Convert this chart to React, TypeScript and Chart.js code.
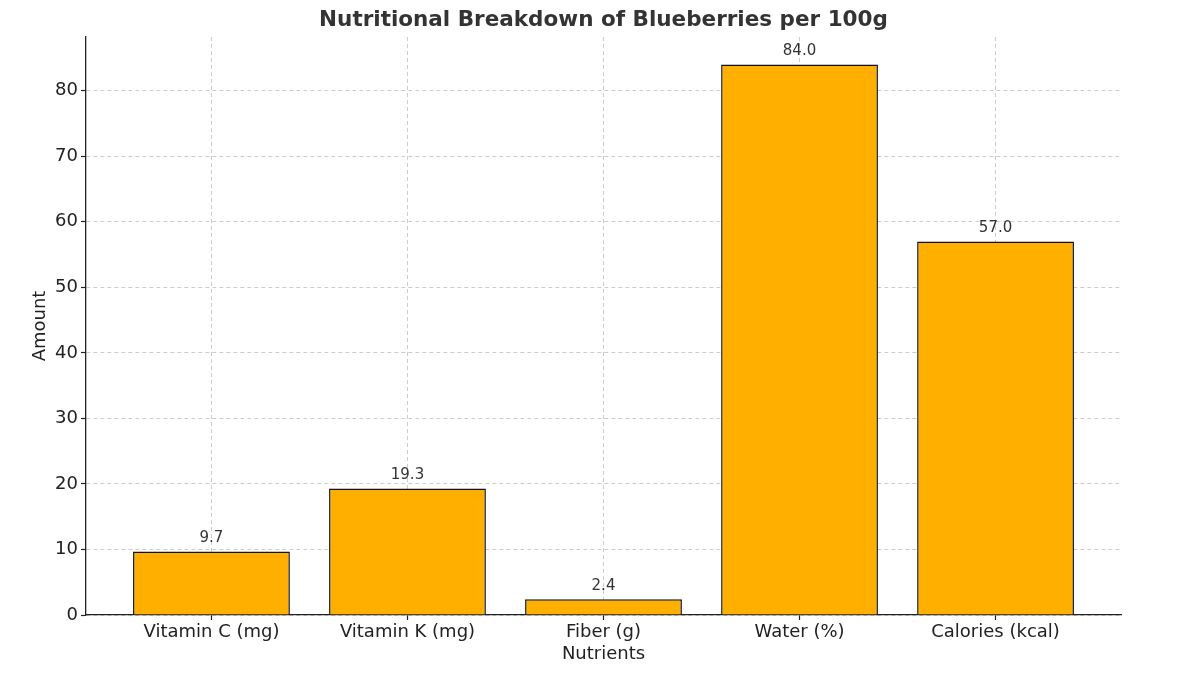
import React, { useEffect, useRef } from "react";
import { Chart, registerables } from "chart.js";

Chart.register(...registerables);

const categories = ["Vitamin C (mg)", "Vitamin K (mg)", "Fiber (g)", "Water (%)", "Calories (kcal)"];
const amounts = [9.7, 19.3, 2.4, 84.0, 57.0];
const yTicks = [0, 10, 20, 30, 40, 50, 60, 70, 80];
const titleText = "Nutritional Breakdown of Blueberries per 100g";
const xTitle = "Nutrients";
const yTitle = "Amount";

const FONT = "'DejaVu Sans', sans-serif";

export default function App() {
  const ref = useRef<HTMLCanvasElement | null>(null);

  useEffect(() => {
    document.body.style.margin = "0";
    const canvas = ref.current;
    if (!canvas) return;

    const textPlugin = {
      id: "customText",
      afterDatasetsDraw(chart: any) {
        const ctx = chart.ctx;
        const meta = chart.getDatasetMeta(0);
        ctx.save();
        ctx.fillStyle = "#333333";
        ctx.font = `15px ${FONT}`;
        ctx.textAlign = "center";
        ctx.textBaseline = "bottom";
        meta.data.forEach((bar: any, i: number) => {
          ctx.fillText(amounts[i].toFixed(1), bar.x, bar.y - 6);
        });
        ctx.restore();
      },
      afterDraw(chart: any) {
        const ctx = chart.ctx;
        const area = chart.chartArea;
        ctx.save();
        ctx.fillStyle = "#333333";
        ctx.font = `bold 21.5px ${FONT}`;
        ctx.textAlign = "center";
        ctx.textBaseline = "middle";
        ctx.fillText(titleText, (area.left + area.right) / 2, 20);
        ctx.fillStyle = "#222222";
        ctx.font = `18px ${FONT}`;
        ctx.fillText(xTitle, (area.left + area.right) / 2, 654);
        ctx.translate(40, (area.top + area.bottom) / 2);
        ctx.rotate(-Math.PI / 2);
        ctx.fillText(yTitle, 0, 0);
        ctx.restore();
      },
    };

    const gridOpts = {
      color: "#cccccc",
      lineWidth: 1,
      drawTicks: true,
      tickLength: 5,
      tickColor: "#222222",
      tickBorderDash: [],
      tickWidth: 1.2,
      offset: false,
    };

    const chart = new Chart(canvas, {
      type: "bar",
      data: {
        datasets: [
          {
            data: amounts.map((v, i) => ({ x: i, y: v })),
            backgroundColor: "#FFAF00",
            borderColor: "#111111",
            borderWidth: 1.5,
            barPercentage: 0.8,
            categoryPercentage: 1.0,
          },
        ],
      },
      options: {
        responsive: false,
        animation: false,
        layout: { padding: { top: 37, right: 79, left: 0, bottom: 0 } },
        plugins: {
          legend: { display: false },
          tooltip: { enabled: false },
          title: { display: false },
        },
        scales: {
          x: {
            type: "linear",
            offset: false,
            min: -0.64,
            max: 4.64,
            afterBuildTicks: (scale: any) => {
              scale.ticks = categories.map((_, i) => ({ value: i }));
            },
            afterFit: (scale: any) => {
              scale.height = 60;
            },
            ticks: {
              autoSkip: false,
              maxRotation: 0,
              callback: (v: any) => categories[v] ?? "",
              color: "#222222",
              font: { family: FONT, size: 18 },
              padding: 2,
            },
            grid: gridOpts,
            border: { display: true, color: "#222222", width: 1.3, dash: [4, 3] },
          },
          y: {
            type: "linear",
            min: 0,
            max: 88.2,
            afterBuildTicks: (scale: any) => {
              scale.ticks = yTicks.map((v) => ({ value: v }));
            },
            afterFit: (scale: any) => {
              scale.width = 86;
            },
            ticks: {
              color: "#222222",
              font: { family: FONT, size: 18 },
              padding: 3,
            },
            grid: gridOpts,
            border: { display: true, color: "#222222", width: 1.3, dash: [4, 3] },
          },
        },
      },
      plugins: [textPlugin],
    } as any);

    return () => chart.destroy();
  }, []);

  return (
    <div style={{ position: "fixed", left: 0, top: 0, width: 1200, height: 675, background: "#fff" }}>
      <canvas ref={ref} width={1200} height={675} style={{ width: 1200, height: 675, display: "block" }} />
    </div>
  );
}
